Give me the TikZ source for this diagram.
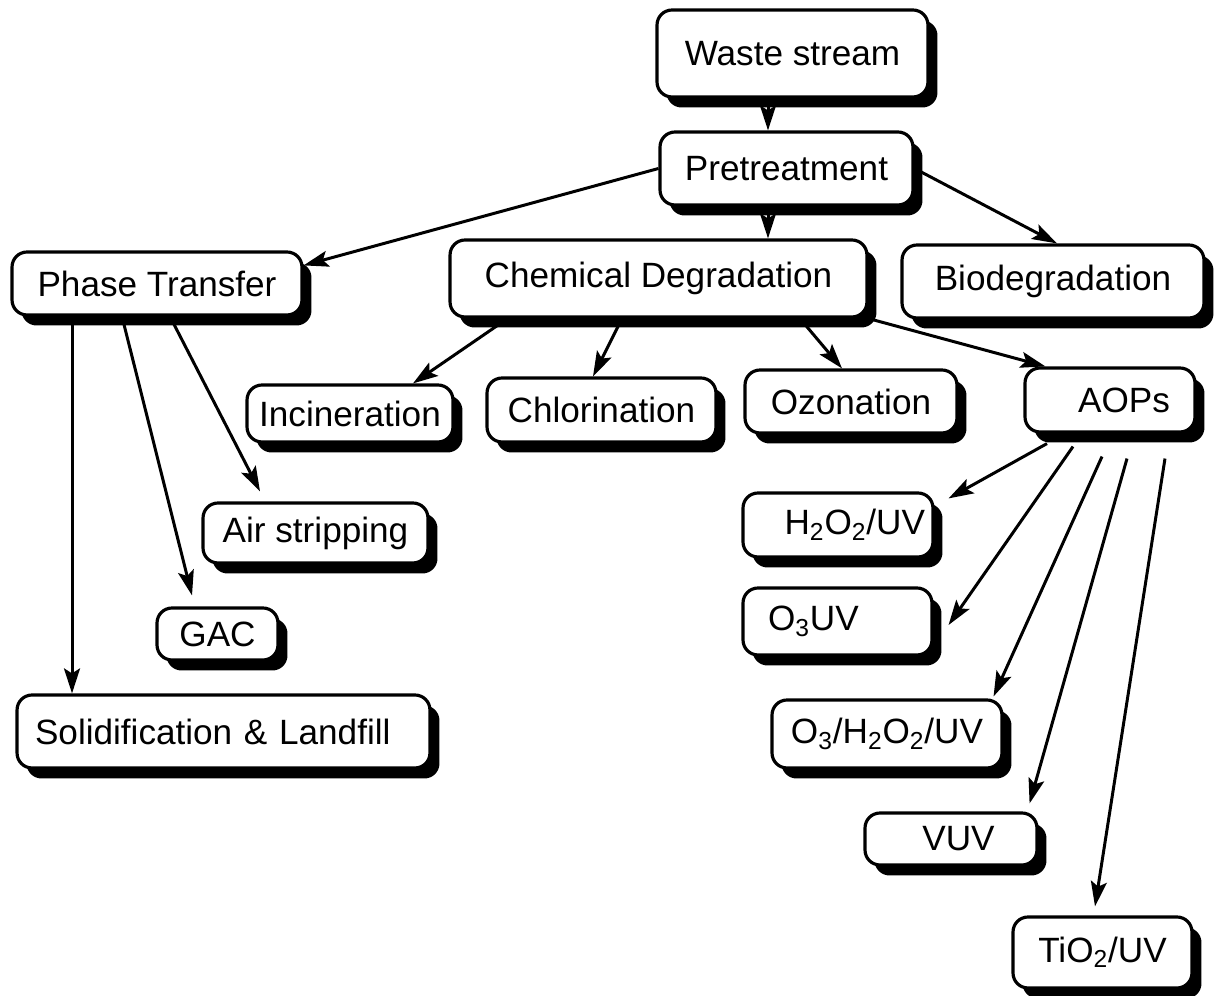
\documentclass[tikz,border=0pt]{standalone}
\usepackage{fontspec}
\setmainfont{Liberation Sans}
\usepackage{tikz}
\usetikzlibrary{shadows,arrows.meta}

\begin{document}
\begin{tikzpicture}[x=0.02cm, y=-0.02cm,
  box/.style={rectangle, draw=black, line width=1.8pt, rounded corners=0.3cm, fill=white,
    drop shadow={shadow xshift=0.19cm, shadow yshift=-0.21cm, fill=black, opacity=1},
    font=\fontsize{20}{24}\selectfont, inner sep=0pt},
  arr/.style={line width=1.7pt, -{Stealth[length=0.5cm, width=0.32cm, inset=0.1cm]}}]
\useasboundingbox (0,0) rectangle (1215,996);

\node[box, minimum width=5.42cm, minimum height=1.74cm](waste) at (792.5,53.5) {Waste stream};
\node[box, minimum width=5.06cm, minimum height=1.46cm](pretreat) at (786.5,168.5) {Pretreatment};

\node[box, minimum width=5.8cm, minimum height=1.26cm](phase) at (157,283.5) {Phase Transfer};
\node[box, minimum width=8.34cm, minimum height=1.54cm](chemdeg) at (658.5,278.5) {Chemical Degradation};
\node[box, minimum width=6.04cm, minimum height=1.46cm](biodeg) at (1053,281.5) {Biodegradation};

\node[box, minimum width=4.12cm, minimum height=1.14cm](incin) at (350,413.5) {Incineration};
\node[box, minimum width=4.58cm, minimum height=1.28cm](chlor) at (601.5,410) {Chlorination};
\node[box, minimum width=4.24cm, minimum height=1.26cm](ozon) at (851,401.5) {Ozonation};
\node[box, minimum height=1.28cm, inner xsep=0.5cm, text width=2.4cm, align=right](aops) at (1110,400) {AOPs};

\node[box, minimum width=4.5cm, minimum height=1.2cm](airstrip) at (315.5,533) {Air stripping};
\node[box, minimum width=2.42cm, minimum height=1.04cm](gac) at (217.5,634) {GAC};
\node[box, minimum height=1.46cm, inner xsep=0.36cm, text width=7.54cm, align=left](solid) at (223.5,731.5) {Solidification \& Landfill};

\node[box, minimum height=1.28cm, inner xsep=0.16cm, text width=3.48cm, align=right](hpuv) at (838,525) {H\textsubscript{2}O\textsubscript{2}/UV};
\node[box, minimum height=1.34cm, inner xsep=0.5cm, text width=2.78cm, align=left](ozuv) at (837.5,621.5) {O\textsubscript{3}UV};
\node[box, minimum width=4.6cm, minimum height=1.36cm](ozhpuv) at (887,734) {O\textsubscript{3}/H\textsubscript{2}O\textsubscript{2}/UV};
\node[box, minimum width=3.44cm, minimum height=1.04cm](vuv) at (951,839) {\hspace*{0.3cm}VUV};
\node[box, minimum width=3.58cm, minimum height=1.42cm](tiuv) at (1102.5,952.5) {TiO\textsubscript{2}/UV};

% top of the tree
\draw[arr] ([xshift=-0.49cm]waste.south) -- ([xshift=-0.49cm]waste.south |- pretreat.north);
\draw[arr] (pretreat.west) -- ([yshift=-0.3cm]phase.north east);
\draw[arr] ([xshift=-0.37cm]pretreat.south) -- ([xshift=-0.37cm]pretreat.south |- chemdeg.north);
\draw[arr] (pretreat.east) -- ([xshift=0.08cm]biodeg.north);

% chemical degradation
\draw[arr] ([xshift=-3.02cm]chemdeg.south) -- ([xshift=1.26cm]incin.north);
\draw[arr] ([xshift=-0.73cm]chemdeg.south) -- ([xshift=-0.17cm]chlor.north);
\draw[arr] ([xshift=2.83cm]chemdeg.south) -- ([xshift=-0.18cm]ozon.north);
\draw[arr] (chemdeg.south east) -- ([xshift=0.44cm]aops.north west);

% phase transfer
\draw[arr] ([xshift=-1.7cm]phase.south) -- ([xshift=-1.7cm]phase.south |- solid.north);
\draw[arr] ([xshift=-0.7cm]phase.south) -- ([xshift=-0.51cm, yshift=0.22cm]gac.north);
\draw[arr] ([xshift=0.26cm]phase.south) -- ([xshift=-1.11cm, yshift=0.2cm]airstrip.north);

% AOPs
\draw[arr] ([xshift=-1.26cm, yshift=-0.2cm]aops.south) -- ([xshift=0.28cm, yshift=-0.14cm]hpuv.north east);
\draw[arr] ([xshift=-0.74cm, yshift=-0.26cm]aops.south) -- ([xshift=0.3cm, yshift=-0.07cm]ozuv.east);
\draw[arr] ([xshift=-0.16cm, yshift=-0.46cm]aops.south) -- ([xshift=-0.2cm, yshift=0.04cm]ozhpuv.north east);
\draw[arr] ([xshift=0.34cm, yshift=-0.5cm]aops.south) -- ([xshift=-0.18cm, yshift=0.16cm]vuv.north east);
\draw[arr] ([xshift=1.1cm, yshift=-0.5cm]aops.south) -- ([xshift=-0.15cm, yshift=0.18cm]tiuv.north);

\end{tikzpicture}
\end{document}
